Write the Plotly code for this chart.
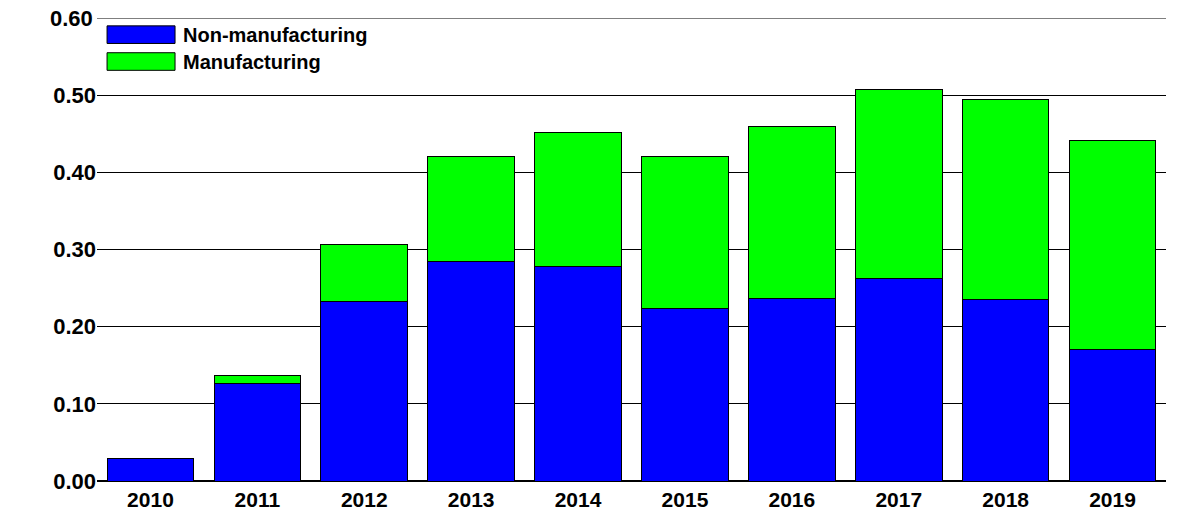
import plotly.graph_objects as go

years = ["2010","2011","2012","2013","2014","2015","2016","2017","2018","2019"]
non_manufacturing = [0.029, 0.126, 0.233, 0.285, 0.278, 0.223, 0.237, 0.263, 0.235, 0.170]
total = [0.029, 0.137, 0.306, 0.420, 0.451, 0.420, 0.459, 0.507, 0.494, 0.441]
manufacturing = [round(t - n, 3) for t, n in zip(total, non_manufacturing)]
series_names = ["Non-manufacturing", "Manufacturing"]
colors = ["#0000FF", "#00FF00"]
y_max = 0.60

fig = go.Figure()
for vals, nm, c in zip([non_manufacturing, manufacturing], series_names, colors):
    fig.add_bar(x=years, y=vals, name=nm, showlegend=False,
                marker=dict(color=c, line=dict(color="black", width=1)))

# manual legend with large swatches
for i, (nm, c) in enumerate(zip(series_names, colors)):
    top = 0.983 - i * 0.058
    fig.add_shape(type="rect", xref="paper", yref="paper", x0=0.0094, x1=0.073,
                  y0=top - 0.038, y1=top, fillcolor=c, line=dict(color="black", width=1))
    fig.add_annotation(xref="paper", yref="paper", x=0.079, y=top - 0.019, xanchor="left",
                       yanchor="middle", text=f"<b>{nm}</b>", showarrow=False,
                       font=dict(size=20))

# top gridline and its label (edge of the plot area)
fig.add_shape(type="line", xref="paper", yref="y", x0=0, x1=1, y0=y_max, y1=y_max,
              line=dict(color="black", width=1))
fig.add_annotation(xref="paper", yref="y", x=0, y=y_max, xanchor="right", yanchor="middle",
                   xshift=-3, borderpad=0, text=f"<b>{y_max:.2f}</b>", showarrow=False,
                   font=dict(size=22))

fig.update_layout(
    barmode="stack", bargap=0.19, width=1171, height=512,
    margin=dict(l=89, r=13, t=10, b=39),
    plot_bgcolor="white", paper_bgcolor="white",
    font=dict(family="Liberation Sans, Arial", size=22, color="black"),
    xaxis=dict(showline=True, linecolor="black", ticks="", automargin=False,
               tickprefix="<b>", ticksuffix="</b>", tickfont=dict(size=21)),
    yaxis=dict(range=[0, y_max], dtick=0.1, tickformat=".2f", showgrid=True, gridcolor="black",
               gridwidth=1, zeroline=True, zerolinecolor="black", tickprefix="<b>", ticksuffix="</b>",
               ticks="", automargin=False, tickfont=dict(size=22)),
)
fig.write_html("out.html")
